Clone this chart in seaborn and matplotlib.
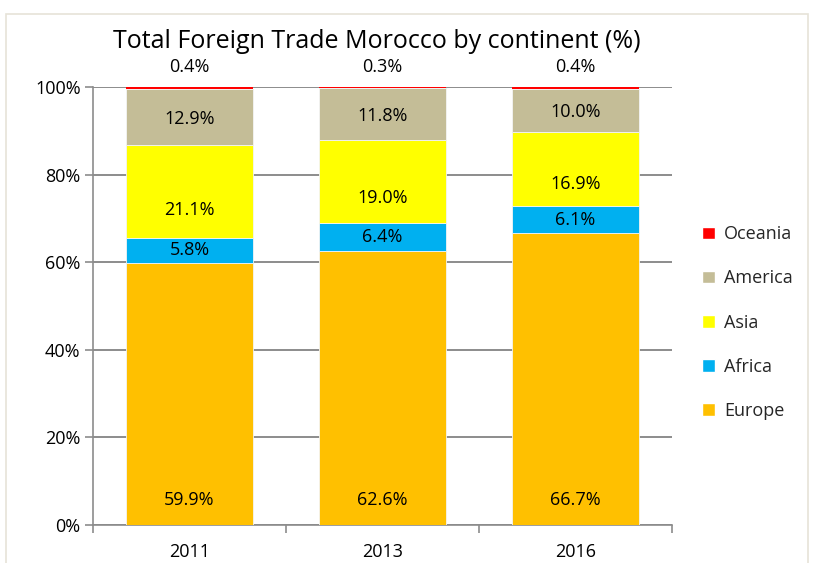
import numpy as np
import pandas as pd
import seaborn as sns
import matplotlib.pyplot as plt
from matplotlib.patches import Patch, Rectangle

sns.set_theme(style="white")
plt.rcParams['font.family'] = ['Open Sans', 'DejaVu Sans']

years = ["2011", "2013", "2016"]
continents = ["Europe", "Africa", "Asia", "America", "Oceania"]
europe = [59.9, 62.6, 66.7]
africa = [5.8, 6.4, 6.1]
asia = [21.1, 19.0, 16.9]
america = [12.9, 11.8, 10.0]
oceania = [0.4, 0.3, 0.4]
colors = ["#FFC000", "#00B0F0", "#FFFF00", "#C4BD97", "#FF0000"]

df = pd.DataFrame({"Europe": europe, "Africa": africa, "Asia": asia,
                   "America": america, "Oceania": oceania}, index=years)
# 100% stacked, like the spreadsheet chart
share = df.div(df.sum(axis=1), axis=0) * 100

fig = plt.figure(figsize=(8.14, 5.63), dpi=100)
ax = fig.add_axes([0.1143, 0.0675, 0.8256 - 0.1143, 0.8455 - 0.0675])

fig.patches.append(Rectangle((6 / 814, -0.1), 802 / 814, 1.1 - 14 / 563,
                             transform=fig.transFigure, fill=False,
                             edgecolor="#E6E3D8", linewidth=1.2))

bottom = np.zeros(len(years))
for name, col in zip(continents, colors):
    vals = share[name].values
    sns.barplot(x=years, y=vals, bottom=bottom, color=col, width=0.66,
                saturation=1, ax=ax, zorder=3,
                edgecolor="#F4F4F4", linewidth=0 if name == "Oceania" else 0.6)
    for i, (b, v, raw) in enumerate(zip(bottom, vals, df[name].values)):
        txt = f"{raw:.1f}%"
        if name == "Europe":
            y = 5.7
        elif name == "Oceania":
            y = 104.6
        elif name == "Asia":
            y = b + v * 0.3
        elif name == "America":
            y = b + v * 0.47
        else:
            y = b + v / 2
        ax.text(i, y, txt, ha="center", va="center", fontsize=13,
                color="black", zorder=4, clip_on=False)
    bottom = bottom + vals

ax.set_ylim(0, 100)
ax.set_xlim(-0.5, 2.5)
ax.set_yticks(range(0, 101, 20))
ax.set_yticklabels([f"{t}%" for t in range(0, 101, 20)], fontsize=13, color="black")
ax.yaxis.grid(True, color="#8C8C8C", linewidth=1.4, zorder=0)
ax.set_axisbelow(True)
ax.tick_params(axis="y", length=6, width=1.2, color="#8C8C8C", left=True, pad=3)
ax.set_xticks([-0.5, 0.5, 1.5, 2.5], minor=True)
ax.tick_params(axis="x", which="minor", length=6, width=1.2, color="#8C8C8C", bottom=True)
ax.tick_params(axis="x", which="major", length=0, pad=13, labelsize=13, labelcolor="black")
for s in ["top", "right"]:
    ax.spines[s].set_visible(False)
for s in ["left", "bottom"]:
    ax.spines[s].set_color("#8C8C8C")
    ax.spines[s].set_linewidth(1.2)
ax.set_xlabel("")
ax.set_ylabel("")

fig.text(0.4625, 0.927, "Total Foreign Trade Morocco by continent (%)",
         ha="center", va="center", fontsize=18, color="black")

handles = [Patch(facecolor=c, label=n) for n, c in zip(continents, colors)][::-1]
fig.legend(handles=handles, loc="center left", bbox_to_anchor=(0.843, 0.427),
           frameon=False, fontsize=13, handlelength=0.7, handleheight=0.7,
           handletextpad=0.5, labelspacing=1.45)

plt.savefig("out.png", dpi=100)
